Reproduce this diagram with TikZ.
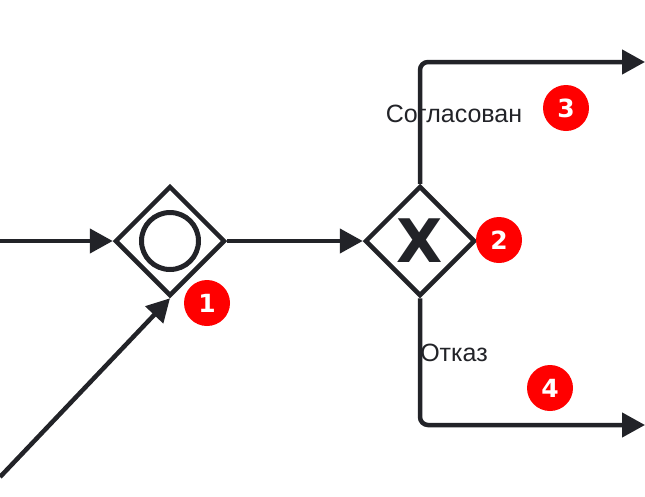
\documentclass[tikz,border=0pt]{standalone}
\usepackage{fontspec}
\setmainfont{Liberation Sans}
\newfontfamily\heavyfont{DejaVu Sans}
\usetikzlibrary{shapes.geometric,arrows.meta}
\definecolor{ink}{RGB}{34,35,40}
\definecolor{badgered}{RGB}{255,0,0}
\tikzset{
    gateway/.style={diamond, draw=ink, line width=4.5pt, inner sep=0pt, minimum size=110pt},
    ring/.style={circle, draw=ink, line width=5pt, inner sep=0pt, minimum size=57pt},
    cross/.style={text=ink, inner sep=0pt, font=\heavyfont\fontsize{60}{60}\selectfont\bfseries},
    badge/.style={circle, fill=badgered, text=white, inner sep=0pt, minimum size=46pt, font=\heavyfont\fontsize{25}{25}\selectfont\bfseries},
    lbl/.style={text=ink, inner sep=0pt, font=\fontsize{25}{25}\selectfont},
    flow/.style={draw=ink, line width=4.5pt, -{Triangle[length=23pt,width=24pt]}}
}
\begin{document}
\begin{tikzpicture}[x=1pt, y=-1pt]
    \useasboundingbox (0,0) rectangle (645,496);
        \draw
            (170, 241) node[gateway] (G1) {}
            (170, 241) node[ring] (R1) {}
            (420, 241) node[gateway] (G2) {}
            (420, 241) node[cross] (X2) {X}
            (207, 303) node[badge] (B1) {1}
            (499, 240) node[badge] (B2) {2}
            (566, 108) node[badge] (B3) {3}
            (550, 388) node[badge] (B4) {4}
            (454, 114) node[lbl] (L3) {Согласован}
            (454, 353) node[lbl] (L4) {Отказ}
            (0, 241) coordinate (IN)
            (0, 477) coordinate (IN2)
            (645, 62) coordinate (OK)
            (645, 425) coordinate (NO)

            (IN) edge [flow] (G1.west)
            (IN2) edge [flow] (G1.south)
            (G1.east) edge [flow] (G2.west)
            (G2.north) edge [flow, rounded corners=8pt, to path={|- (\tikztotarget)}] (OK)
            (G2.south) edge [flow, rounded corners=8pt, to path={|- (\tikztotarget)}] (NO)
            ;
    \end{tikzpicture}
\end{document}
